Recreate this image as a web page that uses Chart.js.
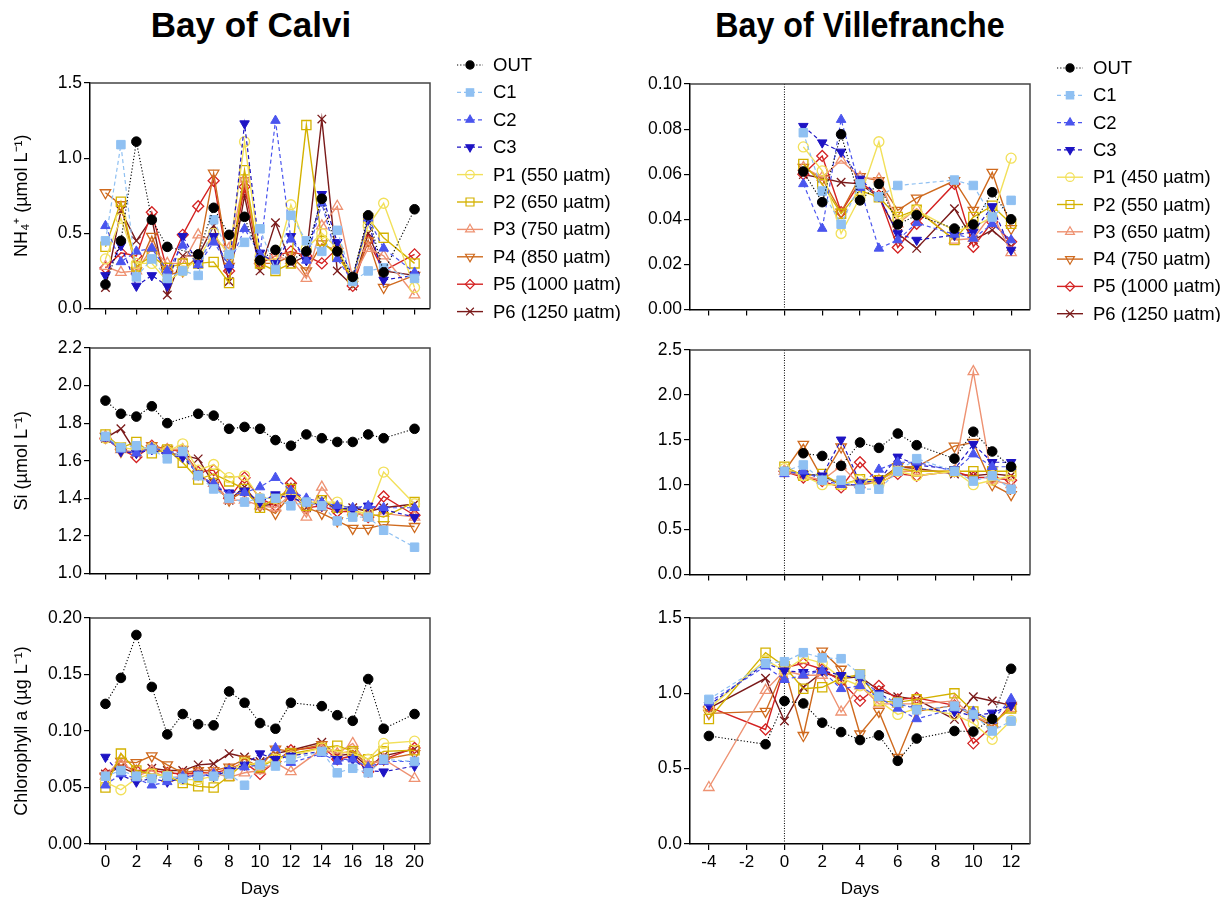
<!DOCTYPE html>
<html>
<head>
<meta charset="utf-8">
<script src="https://cdn.jsdelivr.net/npm/chart.js"></script>
<style>
  body { margin: 0; background: #fff; width: 1229px; height: 904px; position: relative; overflow: hidden; font-family: "Liberation Sans", Arial, sans-serif; }
  canvas { position: absolute; }
  .title { position: absolute; top: 5px; font-weight: bold; font-size: 35px; text-align: center; color: #000; }
</style>
</head>
<body>
<div class="title" style="left:101px;width:300px;">Bay of Calvi</div>
<div class="title" style="left:660px;width:400px;transform:scaleX(0.92);">Bay of Villefranche</div>
<canvas id="c1" width="640" height="271" style="left:0;top:50px"></canvas>
<canvas id="c2" width="440" height="253" style="left:0;top:333px"></canvas>
<canvas id="c3" width="440" height="301" style="left:0;top:603px"></canvas>
<canvas id="v1" width="629" height="271" style="left:600px;top:51px"></canvas>
<canvas id="v2" width="440" height="252" style="left:600px;top:335px"></canvas>
<canvas id="v3" width="440" height="301" style="left:600px;top:603px"></canvas>
<script>
// ---- sampling days ----
const calviDays = [0,1,2,3,4,5,6,7,8,9,10,11,12,13,14,15,16,17,18,20];
const calviChlDays = [0,1,2,3,4,5,6,7,8,9,10,11,12,14,15,16,17,18,20];
const villeNH4Days = [1,2,3,4,5,6,7,9,10,11,12];
const villeSiDays = [0,1,2,3,4,5,6,7,9,10,11,12];
const villeChlDays = [-4,-1,0,1,2,3,4,5,6,7,9,10,11,12];

// ---- legend labels ----
const calviLabels = ['OUT','C1','C2','C3','P1 (550 µatm)','P2 (650 µatm)','P3 (750 µatm)','P4 (850 µatm)','P5 (1000 µatm)','P6 (1250 µatm)'];
const villeLabels = ['OUT','C1','C2','C3','P1 (450 µatm)','P2 (550 µatm)','P3 (650 µatm)','P4 (750 µatm)','P5 (1000 µatm)','P6 (1250 µatm)'];

// ---- Bay of Calvi, NH4+ ----
const cNH4_OUT = [0.16,0.45,1.11,0.59,0.41,null,0.36,0.67,0.49,0.61,0.32,0.39,0.32,0.38,0.73,0.38,0.21,0.62,0.24,0.66];
const cNH4_C1 = [0.45,1.09,0.21,0.33,0.20,0.25,0.22,0.59,0.36,0.44,0.53,0.26,0.62,0.45,0.38,0.52,0.18,0.25,0.27,0.20];
const cNH4_C2 = [0.55,0.31,0.38,0.40,0.25,0.42,0.29,0.44,0.29,0.53,0.36,1.25,0.46,0.32,0.70,0.33,0.18,0.60,0.40,0.24];
const cNH4_C3 = [0.22,0.42,0.15,0.22,0.15,0.48,0.30,0.48,0.27,1.23,0.37,0.30,0.48,0.32,0.76,0.44,0.21,0.59,0.19,0.22];
const cNH4_P1 = [0.33,0.60,0.30,0.30,0.18,0.25,0.33,0.50,0.35,1.11,0.35,0.30,0.69,0.40,0.50,0.40,0.20,0.55,0.70,0.14];
const cNH4_P2 = [0.41,0.71,0.28,0.35,0.27,0.30,0.30,0.31,0.17,0.92,0.30,0.25,0.30,1.22,0.45,0.35,0.20,0.60,0.47,0.30];
const cNH4_P3 = [0.28,0.24,0.25,0.40,0.30,0.30,0.49,0.45,0.40,0.86,0.32,0.35,0.32,0.20,0.55,0.68,0.20,0.40,0.35,0.09];
const cNH4_P4 = [0.77,0.69,0.25,0.48,0.22,0.25,0.35,0.90,0.28,0.85,0.30,0.30,0.35,0.25,0.43,0.38,0.18,0.45,0.14,0.22];
const cNH4_P5 = [0.27,0.37,0.35,0.64,0.25,0.49,0.68,0.85,0.25,0.81,0.30,0.35,0.38,0.35,0.30,0.40,0.15,0.45,0.25,0.36];
const cNH4_P6 = [0.14,0.65,0.45,0.60,0.09,0.35,0.35,0.55,0.18,0.75,0.25,0.57,0.30,0.35,1.26,0.25,0.15,0.50,0.25,0.22];

// ---- Bay of Calvi, Si ----
const cSi_OUT = [1.92,1.85,1.835,1.89,1.80,null,1.85,1.84,1.77,1.78,1.77,1.71,1.68,1.74,1.72,1.70,1.70,1.74,1.72,1.77];
const cSi_C1 = [1.73,1.67,1.68,1.66,1.61,1.65,1.52,1.45,1.40,1.38,1.40,1.40,1.36,1.38,1.36,1.28,1.30,1.30,1.23,1.14];
const cSi_C2 = [1.72,1.66,1.64,1.67,1.65,1.64,1.52,1.48,1.42,1.43,1.46,1.51,1.44,1.40,1.38,1.36,1.35,1.36,1.35,1.35];
const cSi_C3 = [1.73,1.65,1.64,1.66,1.63,1.62,1.53,1.46,1.43,1.44,1.38,1.42,1.40,1.38,1.36,1.35,1.34,1.36,1.34,1.30];
const cSi_P1 = [1.72,1.67,1.66,1.67,1.65,1.69,1.55,1.58,1.51,1.52,1.40,1.40,1.43,1.38,1.38,1.38,1.33,1.32,1.54,1.37];
const cSi_P2 = [1.74,1.67,1.70,1.64,1.66,1.59,1.50,1.53,1.49,1.45,1.35,1.40,1.45,1.36,1.39,1.35,1.33,1.32,1.30,1.38];
const cSi_P3 = [1.73,1.66,1.64,1.67,1.66,1.66,1.52,1.48,1.39,1.39,1.36,1.35,1.42,1.30,1.46,1.35,1.33,1.30,1.32,1.30];
const cSi_P4 = [1.73,1.65,1.65,1.68,1.66,1.66,1.53,1.47,1.39,1.44,1.36,1.32,1.42,1.35,1.32,1.28,1.24,1.24,1.26,1.25];
const cSi_P5 = [1.72,1.66,1.62,1.68,1.66,1.65,1.54,1.55,1.40,1.51,1.40,1.36,1.48,1.35,1.36,1.33,1.33,1.30,1.41,1.31];
const cSi_P6 = [1.72,1.77,1.64,1.67,1.64,1.63,1.61,1.48,1.39,1.46,1.36,1.37,1.46,1.35,1.39,1.34,1.35,1.33,1.35,1.37];

// ---- Bay of Calvi, Chlorophyll a ----
const cChl_OUT = [0.124,0.147,0.185,0.139,0.097,0.115,0.106,0.105,0.135,0.125,0.107,0.102,0.125,0.122,0.114,0.109,0.146,0.102,0.115];
const cChl_C1 = [0.060,0.065,0.060,0.058,0.060,0.058,0.060,0.060,0.062,0.052,0.070,0.069,0.075,0.082,0.063,0.067,0.063,0.075,0.073];
const cChl_C2 = [0.052,0.062,0.058,0.052,0.055,0.060,0.060,0.062,0.065,0.068,0.070,0.085,0.072,0.080,0.073,0.075,0.068,0.073,0.073];
const cChl_C3 = [0.077,0.061,0.055,0.058,0.055,0.058,0.062,0.060,0.065,0.070,0.080,0.075,0.078,0.082,0.075,0.075,0.065,0.064,0.069];
const cChl_P1 = [0.055,0.048,0.058,0.062,0.060,0.057,0.057,0.060,0.065,0.072,0.070,0.075,0.078,0.085,0.082,0.080,0.075,0.089,0.091];
const cChl_P2 = [0.050,0.080,0.065,0.062,0.060,0.054,0.051,0.050,0.060,0.072,0.068,0.075,0.080,0.085,0.087,0.082,0.075,0.082,0.083];
const cChl_P3 = [0.060,0.075,0.060,0.065,0.058,0.060,0.062,0.063,0.059,0.063,0.065,0.072,0.064,0.084,0.080,0.089,0.070,0.075,0.058];
const cChl_P4 = [0.060,0.073,0.072,0.078,0.070,0.063,0.065,0.065,0.068,0.075,0.068,0.084,0.082,0.088,0.080,0.082,0.070,0.075,0.080];
const cChl_P5 = [0.062,0.070,0.065,0.065,0.063,0.062,0.063,0.063,0.066,0.072,0.062,0.073,0.083,0.086,0.075,0.078,0.064,0.075,0.085];
const cChl_P6 = [0.062,0.068,0.062,0.067,0.065,0.065,0.070,0.071,0.080,0.077,0.073,0.080,0.083,0.090,0.078,0.080,0.068,0.078,0.084];

// ---- Bay of Villefranche, NH4+ ----
const vNH4_OUT = [0.0612,0.0476,0.0777,0.0484,0.0557,0.0377,0.0418,0.0359,0.0377,0.052,0.040];
const vNH4_C1 = [0.0784,0.0525,0.0378,0.0557,0.050,0.055,null,0.0574,0.055,0.041,0.0484];
const vNH4_C2 = [0.0557,0.0359,0.0842,0.054,0.0271,0.0308,0.0384,0.0333,0.0315,0.038,0.0308];
const vNH4_C3 = [0.0813,0.074,0.0699,0.0579,0.0501,0.0337,0.0308,0.033,0.0344,0.0457,0.0264];
const vNH4_P1 = [0.0721,0.0615,0.0337,0.0498,0.0744,0.0396,0.044,0.035,0.0366,0.041,0.0671];
const vNH4_P2 = [0.0645,0.0557,0.0425,0.0527,0.0498,0.041,0.0442,0.0308,0.041,0.046,0.038];
const vNH4_P3 = [0.063,0.0586,0.0662,0.0586,0.0579,0.038,0.0447,0.0308,0.0315,0.0425,0.0252];
const vNH4_P4 = [0.063,0.058,0.0432,0.0589,0.0571,0.044,0.0494,0.0571,0.044,0.0608,0.0359];
const vNH4_P5 = [0.060,0.0681,0.0432,0.0564,0.0505,0.0275,0.038,0.0557,0.0278,0.0388,0.030];
const vNH4_P6 = [0.0598,0.0583,0.0564,0.0557,0.0498,0.0337,0.0271,0.0447,0.0308,0.0352,0.028];

// ---- Bay of Villefranche, Si ----
const vSi_OUT = [null,1.35,1.32,1.21,1.47,1.41,1.57,1.44,1.29,1.59,1.37,1.20];
const vSi_C1 = [1.15,1.22,1.05,1.05,0.95,0.95,1.15,1.29,1.15,1.04,1.10,0.95];
const vSi_C2 = [1.12,1.15,1.05,1.00,1.00,1.17,1.25,1.25,1.15,1.34,1.20,1.20];
const vSi_C3 = [1.15,1.12,1.10,1.50,1.02,1.05,1.31,1.22,1.17,1.45,1.25,1.25];
const vSi_P1 = [1.18,1.10,1.00,1.00,1.05,1.00,1.15,1.10,1.15,1.00,1.05,1.10];
const vSi_P2 = [1.20,1.10,1.12,1.00,1.06,1.05,1.18,1.15,1.15,1.15,1.15,1.15];
const vSi_P3 = [1.15,1.10,1.05,1.21,1.00,1.05,1.15,1.15,1.15,2.26,1.05,1.00];
const vSi_P4 = [1.15,1.45,1.07,1.42,1.00,1.03,1.20,1.20,1.43,1.47,1.00,0.89];
const vSi_P5 = [1.15,1.08,1.04,0.97,1.25,1.02,1.12,1.10,1.15,1.08,1.08,1.05];
const vSi_P6 = [1.15,1.12,1.10,1.00,1.00,1.05,1.20,1.18,1.12,1.10,1.12,1.10];

// ---- Bay of Villefranche, Chlorophyll a ----
const vChl_OUT = [0.717,0.662,0.949,0.933,0.805,0.743,0.69,0.721,0.552,0.70,0.75,0.746,0.83,1.163];
const vChl_C1 = [0.96,1.20,1.21,1.27,1.235,1.23,1.125,0.98,0.94,0.89,0.915,0.86,0.75,0.816];
const vChl_C2 = [0.94,1.18,1.09,1.12,1.15,1.03,1.05,0.97,0.90,0.83,0.90,0.88,0.82,0.964];
const vChl_C3 = [0.92,1.20,1.15,1.14,1.15,1.12,1.10,1.00,0.93,0.90,0.88,0.85,0.87,0.92];
const vChl_P1 = [0.90,1.22,1.15,1.235,1.20,1.10,1.05,0.95,0.86,0.90,0.86,0.80,0.695,0.82];
const vChl_P2 = [0.83,1.27,1.18,1.03,1.04,1.10,1.125,0.95,0.94,0.96,1.00,0.88,0.80,0.90];
const vChl_P3 = [0.375,1.02,1.15,1.12,1.12,0.876,1.05,0.93,0.93,0.93,0.95,0.85,0.80,0.90];
const vChl_P4 = [0.867,0.88,1.17,0.72,1.28,1.16,0.73,0.88,0.574,0.88,0.92,0.85,0.78,0.92];
const vChl_P5 = [0.91,0.76,1.17,1.20,1.16,1.08,0.95,1.05,0.96,0.97,0.92,0.668,0.78,0.93];
const vChl_P6 = [0.90,1.10,0.816,1.04,1.14,1.10,1.11,1.02,0.977,0.96,0.827,0.977,0.949,0.92];

// ---- axis ticks ----
const calviXTicks = [0,2,4,6,8,10,12,14,16,18,20];
const villeXTicks = [-4,-2,0,2,4,6,8,10,12];
const cNH4Ticks = [0,0.5,1.0,1.5];
const cSiTicks = [1.0,1.2,1.4,1.6,1.8,2.0,2.2];
const cChlTicks = [0,0.05,0.10,0.15,0.20];
const vNH4Ticks = [0,0.02,0.04,0.06,0.08,0.10];
const vSiTicks = [0,0.5,1.0,1.5,2.0,2.5];
const vChlTicks = [0,0.5,1.0,1.5];

const FONT = "'Liberation Sans', Arial, sans-serif";

// marker / line style of each series (OUT, C1..C3, P1..P6)
const styles = [
  { color: '#000000', dash: [1.2, 2], width: 1.1, point: 'circle', rot: 0, fill: true, r: 4.8 },
  { color: '#8fc0f2', dash: [4, 3], width: 1.2, point: 'rect', rot: 0, fill: true, r: 6 },
  { color: '#4a55ee', dash: [4, 3], width: 1.2, point: 'triangle', rot: 0, fill: true, r: 5.5 },
  { color: '#1e14c4', dash: [4, 3], width: 1.2, point: 'triangle', rot: 180, fill: true, r: 5.5 },
  { color: '#f2e05a', dash: [], width: 1.4, point: 'circle', rot: 0, fill: false, r: 5 },
  { color: '#d4b200', dash: [], width: 1.4, point: 'rect', rot: 0, fill: false, r: 6.5 },
  { color: '#ee9272', dash: [], width: 1.4, point: 'triangle', rot: 0, fill: false, r: 6 },
  { color: '#cf6a1e', dash: [], width: 1.4, point: 'triangle', rot: 180, fill: false, r: 6 },
  { color: '#d42222', dash: [], width: 1.4, point: 'rectRot', rot: 0, fill: false, r: 5.5 },
  { color: '#7a1a1a', dash: [], width: 1.4, point: 'crossRot', rot: 0, fill: false, r: 6 }
];

function makeSets(days, arrays, labels) {
  return arrays.map((arr, i) => {
    const st = styles[i];
    const pts = [];
    days.forEach((d, j) => { if (arr[j] !== null) pts.push({ x: d, y: arr[j] }); });
    return {
      label: labels[i],
      data: pts,
      borderColor: st.color,
      backgroundColor: st.fill ? st.color : 'rgba(0,0,0,0)',
      pointBackgroundColor: st.fill ? st.color : 'rgba(0,0,0,0)',
      pointBorderColor: st.color,
      pointBorderWidth: st.fill ? 1 : 1.3,
      pointStyle: st.point,
      pointRotation: st.rot,
      pointRadius: st.r,
      borderWidth: st.width,
      borderDash: st.dash,
      tension: 0,
      fill: false
    };
  });
}

// own marker drawing for the side legend
function drawMarker(ctx, st, x, y) {
  const r = st.r * 0.85;
  ctx.beginPath();
  if (st.point === 'circle') {
    ctx.arc(x, y, r, 0, Math.PI * 2);
  } else if (st.point === 'rect') {
    const s = r * 0.72;
    ctx.rect(x - s, y - s, 2 * s, 2 * s);
  } else if (st.point === 'triangle') {
    const d = st.rot ? -1 : 1;
    ctx.moveTo(x, y - d * r);
    ctx.lineTo(x + r * 0.87, y + d * r * 0.5);
    ctx.lineTo(x - r * 0.87, y + d * r * 0.5);
    ctx.closePath();
  } else if (st.point === 'rectRot') {
    ctx.moveTo(x, y - r); ctx.lineTo(x + r, y); ctx.lineTo(x, y + r); ctx.lineTo(x - r, y); ctx.closePath();
  } else if (st.point === 'crossRot') {
    const s = r * 0.75;
    ctx.moveTo(x - s, y - s); ctx.lineTo(x + s, y + s);
    ctx.moveTo(x + s, y - s); ctx.lineTo(x - s, y + s);
  }
  if (st.fill) { ctx.fillStyle = st.color; ctx.fill(); }
  ctx.lineWidth = 1.2;
  ctx.stroke();
}

const sideLegend = {
  id: 'sideLegend',
  afterDraw(chart, args, opts) {
    if (!opts.labels) return;
    const ctx = chart.ctx;
    ctx.save();
    opts.labels.forEach((lab, i) => {
      const st = styles[i];
      const y = opts.top + i * opts.gap;
      ctx.strokeStyle = st.color;
      ctx.lineWidth = st.width;
      ctx.setLineDash(st.dash);
      ctx.beginPath();
      ctx.moveTo(opts.x, y);
      ctx.lineTo(opts.x + 26, y);
      ctx.stroke();
      ctx.setLineDash([]);
      drawMarker(ctx, st, opts.x + 13, y);
      ctx.fillStyle = '#000';
      ctx.font = '18.5px ' + FONT;
      ctx.textBaseline = 'middle';
      ctx.fillText(lab, opts.x + 36, y + 1);
    });
    ctx.restore();
  }
};

// top/right frame and the dotted day-0 line
const frameBox = {
  id: 'frameBox',
  beforeDatasetsDraw(chart, args, opts) {
    const a = chart.chartArea;
    const ctx = chart.ctx;
    ctx.save();
    if (opts.zero) {
      const x0 = chart.scales.x.getPixelForValue(0);
      ctx.strokeStyle = '#000';
      ctx.lineWidth = 1;
      ctx.setLineDash([1, 1.5]);
      ctx.beginPath();
      ctx.moveTo(x0, a.top);
      ctx.lineTo(x0, a.bottom);
      ctx.stroke();
      ctx.setLineDash([]);
    }
    ctx.strokeStyle = '#444';
    ctx.lineWidth = 1.5;
    ctx.beginPath();
    ctx.moveTo(a.left, a.top);
    ctx.lineTo(a.right, a.top);
    ctx.lineTo(a.right, a.bottom);
    ctx.stroke();
    ctx.restore();
  }
};

Chart.register(sideLegend, frameBox);

function makeChart(id, cfg) {
  const showX = cfg.showX;
  new Chart(document.getElementById(id), {
    type: 'line',
    data: { datasets: cfg.sets },
    options: {
      responsive: false,
      animation: false,
      devicePixelRatio: 1,
      layout: { padding: { top: cfg.padTop, right: cfg.padRight, left: 0, bottom: 0 } },
      plugins: {
        legend: { display: false },
        tooltip: { enabled: false },
        sideLegend: cfg.legend || {},
        frameBox: { zero: cfg.zero }
      },
      scales: {
        x: {
          type: 'linear',
          min: cfg.xMin,
          max: cfg.xMax,
          afterBuildTicks: s => { s.ticks = cfg.xTicks.map(v => ({ value: v })); },
          afterFit: s => { s.height = showX ? 60 : 12; },
          grid: { drawOnChartArea: false, drawTicks: true, tickLength: 6, color: '#000', lineWidth: 1.2 },
          border: { display: true, color: '#000', width: 1.5 },
          ticks: { display: showX, color: '#000', font: { family: FONT, size: 17 }, padding: 2, maxRotation: 0, autoSkip: false },
          title: { display: showX, text: 'Days', color: '#000', font: { family: FONT, size: 17 }, padding: { top: 0, bottom: 4 } }
        },
        y: {
          min: cfg.yMin,
          max: cfg.yMax,
          afterBuildTicks: s => { s.ticks = cfg.yTicks.map(v => ({ value: v })); },
          afterFit: s => { s.width = 90; },
          grid: { drawOnChartArea: false, drawTicks: true, tickLength: 6, color: '#000', lineWidth: 1.2 },
          border: { display: true, color: '#000', width: 1.5 },
          ticks: { color: '#000', font: { family: FONT, size: 17.5 }, padding: 2, callback: v => v.toFixed(cfg.dec) },
          title: { display: !!cfg.yTitle, text: cfg.yTitle || '', color: '#000', font: { family: FONT, size: 18 }, padding: { top: 11, bottom: 0 } }
        }
      }
    }
  });
}

makeChart('c1', {
  sets: makeSets(calviDays, [cNH4_OUT, cNH4_C1, cNH4_C2, cNH4_C3, cNH4_P1, cNH4_P2, cNH4_P3, cNH4_P4, cNH4_P5, cNH4_P6], calviLabels),
  padTop: 33, padRight: 210, showX: false, zero: false,
  xMin: -1, xMax: 21, xTicks: calviXTicks,
  yMin: 0, yMax: 1.5, yTicks: cNH4Ticks, dec: 1, yTitle: 'NH₄⁺ (µmol L⁻¹)',
  legend: { labels: calviLabels, x: 457, top: 15, gap: 27.4 }
});
makeChart('c2', {
  sets: makeSets(calviDays, [cSi_OUT, cSi_C1, cSi_C2, cSi_C3, cSi_P1, cSi_P2, cSi_P3, cSi_P4, cSi_P5, cSi_P6], calviLabels),
  padTop: 15, padRight: 10, showX: false, zero: false,
  xMin: -1, xMax: 21, xTicks: calviXTicks,
  yMin: 1.0, yMax: 2.2, yTicks: cSiTicks, dec: 1, yTitle: 'Si (µmol L⁻¹)'
});
makeChart('c3', {
  sets: makeSets(calviChlDays, [cChl_OUT, cChl_C1, cChl_C2, cChl_C3, cChl_P1, cChl_P2, cChl_P3, cChl_P4, cChl_P5, cChl_P6], calviLabels),
  padTop: 15, padRight: 10, showX: true, zero: false,
  xMin: -1, xMax: 21, xTicks: calviXTicks,
  yMin: 0, yMax: 0.2, yTicks: cChlTicks, dec: 2, yTitle: 'Chlorophyll a (µg L⁻¹)'
});
makeChart('v1', {
  sets: makeSets(villeNH4Days, [vNH4_OUT, vNH4_C1, vNH4_C2, vNH4_C3, vNH4_P1, vNH4_P2, vNH4_P3, vNH4_P4, vNH4_P5, vNH4_P6], villeLabels),
  padTop: 33, padRight: 199, showX: false, zero: true,
  xMin: -5, xMax: 13, xTicks: villeXTicks,
  yMin: 0, yMax: 0.1, yTicks: vNH4Ticks, dec: 2,
  legend: { labels: villeLabels, x: 457, top: 17, gap: 27.3 }
});
makeChart('v2', {
  sets: makeSets(villeSiDays, [vSi_OUT, vSi_C1, vSi_C2, vSi_C3, vSi_P1, vSi_P2, vSi_P3, vSi_P4, vSi_P5, vSi_P6], villeLabels),
  padTop: 15, padRight: 10, showX: false, zero: true,
  xMin: -5, xMax: 13, xTicks: villeXTicks,
  yMin: 0, yMax: 2.5, yTicks: vSiTicks, dec: 1
});
makeChart('v3', {
  sets: makeSets(villeChlDays, [vChl_OUT, vChl_C1, vChl_C2, vChl_C3, vChl_P1, vChl_P2, vChl_P3, vChl_P4, vChl_P5, vChl_P6], villeLabels),
  padTop: 15, padRight: 10, showX: true, zero: true,
  xMin: -5, xMax: 13, xTicks: villeXTicks,
  yMin: 0, yMax: 1.5, yTicks: vChlTicks, dec: 1
});
</script>
</body>
</html>
